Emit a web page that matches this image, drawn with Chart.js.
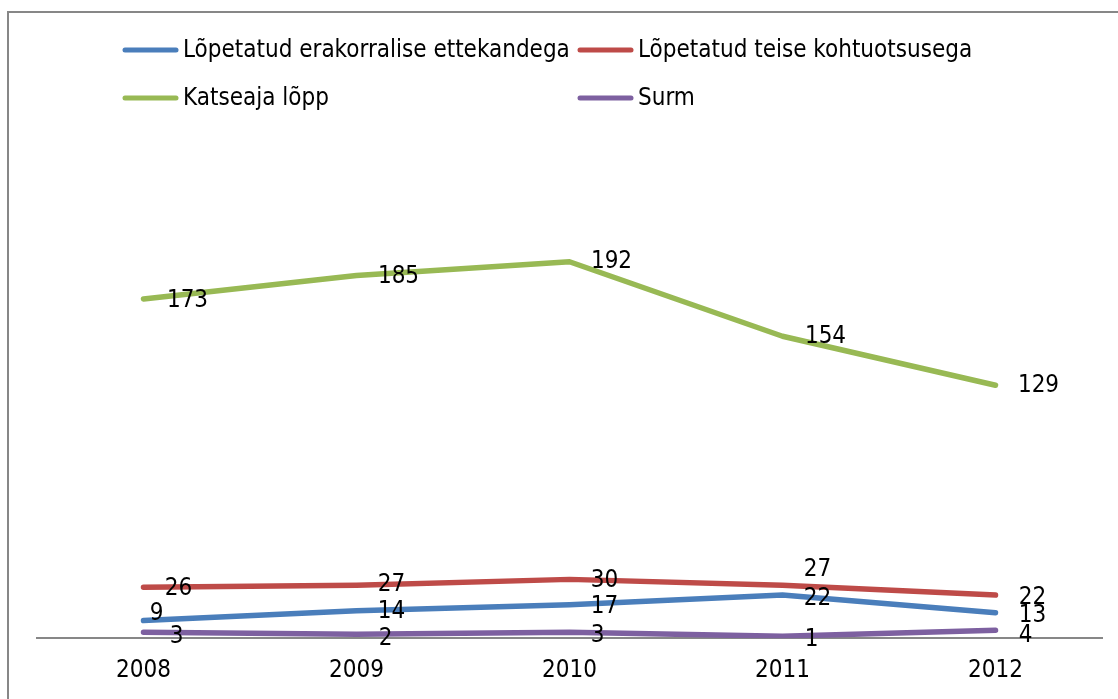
<!DOCTYPE html>
<html>
<head>
<meta charset="utf-8">
<script src="https://cdn.jsdelivr.net/npm/chart.js@4/dist/chart.umd.min.js"></script>
<style>
  html, body { margin: 0; padding: 0; background: #fff; }
  #wrap { width: 1118px; height: 699px; position: relative; }
</style>
</head>
<body>
<div id="wrap"><canvas id="chart"></canvas></div>
<script>
/*
Data
*/
const years = ["2008", "2009", "2010", "2011", "2012"];

const seriesNames = [
    "Lõpetatud erakorralise ettekandega",
    "Lõpetatud teise kohtuotsusega",
    "Katseaja lõpp",
    "Surm"
];

const erakorraline = [9, 14, 17, 22, 13];
const teiseOtsusega = [26, 27, 30, 27, 22];
const katseajaLopp = [173, 185, 192, 154, 129];
const surm = [3, 2, 3, 1, 4];

const colors = ["#4A7EBB", "#BE4B48", "#98B954", "#7D60A0"];

const FONT = "'Liberation Sans Narrow', 'DejaVu Sans Condensed', sans-serif";

/*
Label nudges (like the hand-placed labels in the original)
*/
const labelNudge = [
    [[13, -7], [35, 1], [35, 2], [35, 4], [37, 3]],
    [[35, 2], [35, 0], [35, 1], [35, -15], [37, 3]],
    [[44, 2], [42, 1], [42, 0], [43, 1], [43, 1]],
    [[33, 4], [29, 4], [28, 3], [29, 4], [30, 5]]
];

const valueLabels = {
    id: "valueLabels",
    afterDatasetsDraw(chart) {
        const ctx = chart.ctx;
        ctx.save();
        ctx.font = "24px " + FONT;
        ctx.fillStyle = "#000";
        ctx.textAlign = "center";
        ctx.textBaseline = "middle";
        chart.data.datasets.forEach((ds, i) => {
            chart.getDatasetMeta(i).data.forEach((pt, j) => {
                const n = labelNudge[i][j];
                ctx.fillText(String(ds.data[j]), pt.x + n[0], pt.y + n[1]);
            });
        });
        ctx.restore();
    }
};

// two-column legend + frame, drawn the way the spreadsheet did it
const sheetLegend = {
    id: "sheetLegend",
    afterDraw(chart) {
        const ctx = chart.ctx;
        ctx.save();
        ctx.strokeStyle = "#878787";
        ctx.lineWidth = 2;
        ctx.beginPath();
        ctx.moveTo(8, chart.height);
        ctx.lineTo(8, 12);
        ctx.lineTo(chart.width, 12);
        ctx.stroke();

        const cols = [123, 578];
        const rows = [50, 98];
        ctx.font = "24px " + FONT;
        ctx.textBaseline = "middle";
        ctx.textAlign = "left";
        ctx.lineCap = "round";
        chart.data.datasets.forEach((ds, i) => {
            const x = cols[i % 2];
            const y = rows[Math.floor(i / 2)];
            ctx.strokeStyle = ds.borderColor;
            ctx.lineWidth = 5;
            ctx.beginPath();
            ctx.moveTo(x + 2, y);
            ctx.lineTo(x + 53, y);
            ctx.stroke();
            ctx.fillStyle = "#000";
            ctx.fillText(ds.label, x + 60, y + 1);
        });
        ctx.restore();
    }
};

const allSeries = [erakorraline, teiseOtsusega, katseajaLopp, surm];

const ctx = document.getElementById("chart").getContext("2d");
const chart = new Chart(ctx, {
    type: "line",
    data: {
        labels: years,
        datasets: allSeries.map((values, i) => ({
            label: seriesNames[i],
            data: values,
            borderColor: colors[i],
            backgroundColor: colors[i],
            borderWidth: 5.5,
            borderCapStyle: "round",
            borderJoinStyle: "round",
            pointRadius: 0,
            tension: 0,
            order: 4 - i
        }))
    },
    options: {
        responsive: true,
        maintainAspectRatio: false,
        animation: false,
        layout: {
            padding: { left: 37, right: 16, top: 148, bottom: -4 }
        },
        plugins: {
            legend: { display: false },
            tooltip: { enabled: false }
        },
        scales: {
            x: {
                offset: true,
                grid: { display: false, drawTicks: false },
                border: { display: true, color: "#878787", width: 2 },
                ticks: {
                    color: "#000",
                    padding: 18,
                    font: { family: FONT, size: 24 }
                }
            },
            y: {
                display: false,
                min: 0,
                max: 250
            }
        }
    },
    plugins: [valueLabels, sheetLegend]
});
</script>
</body>
</html>
